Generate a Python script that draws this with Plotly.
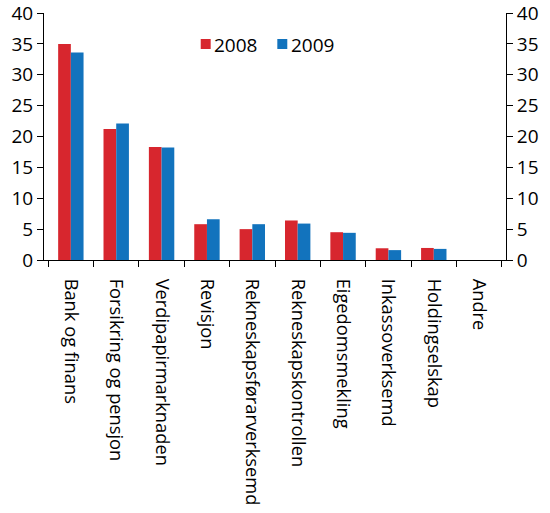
import plotly.graph_objects as go

categories = ["Bank og finans", "Forsikring og pensjon", "Verdipapirmarknaden", "Revisjon",
              "Rekneskapsførarverksemd", "Rekneskapskontrollen", "Eigedomsmekling",
              "Inkassoverksemd", "Holdingselskap", "Andre"]
v2008 = [35.0, 21.2, 18.3, 5.8, 5.0, 6.4, 4.5, 1.9, 1.95, 0]
v2009 = [33.6, 22.1, 18.2, 6.6, 5.8, 5.9, 4.4, 1.6, 1.8, 0]
series_names = ["2008", "2009"]
yticks = [0, 5, 10, 15, 20, 25, 30, 35, 40]

RED = "#d7262e"
BLUE = "#1273bd"
FONT = "Open Sans"
FS = 19

fig = go.Figure()
fig.add_trace(go.Bar(name=series_names[0], x=categories, y=v2008, marker_color=RED, marker_line_width=0))
fig.add_trace(go.Bar(name=series_names[1], x=categories, y=v2009, marker_color=BLUE, marker_line_width=0))
fig.add_trace(go.Scatter(x=categories, y=v2008, yaxis="y2", mode="markers",
                         marker_opacity=0, showlegend=False, hoverinfo="skip"))

# manual legend (squares + labels)
legend_items = [(series_names[0], RED, 0.3392, 0.3658), (series_names[1], BLUE, 0.5050, 0.5314)]
shapes, annotations = [], []
for name, col, sx, tx in legend_items:
    shapes.append(dict(type="rect", xref="paper", yref="paper", x0=sx, x1=sx + 0.0216,
                       y0=0.8543, y1=0.8947, fillcolor=col, line_width=0))
    annotations.append(dict(text=name, xref="paper", yref="paper", x=tx, y=0.872,
                            xanchor="left", yanchor="middle", showarrow=False,
                            font=dict(size=FS, family=FONT, color="black"), borderpad=0))

axis_common = dict(range=[0, 40], tickvals=yticks, ticks="outside", ticklen=6, tickcolor="black",
                   showline=True, linecolor="black", linewidth=1, showgrid=False, zeroline=False,
                   automargin=False, tickfont=dict(size=FS), ticklabeloverflow="allow")

fig.update_layout(
    width=550, height=513,
    margin=dict(l=44, r=44, t=13, b=253, autoexpand=False),
    paper_bgcolor="white", plot_bgcolor="white",
    font=dict(family=FONT, size=FS, color="black"),
    barmode="group", bargap=0.44, bargroupgap=0,
    showlegend=False,
    shapes=shapes, annotations=annotations,
    xaxis=dict(type="category", tickson="boundaries", ticks="outside", ticklen=6,
               tickcolor="black", showline=True, linecolor="black", linewidth=1,
               tickangle=90, showgrid=False, tickfont=dict(size=18.3), automargin=False,
               ticklabeloverflow="allow", ticklabelstandoff=14),
    yaxis=axis_common,
    yaxis2=dict(**axis_common, overlaying="y", side="right"),
)
fig.write_html("out.html", config={"displayModeBar": False},
               post_script="document.body.style.margin='0';document.body.style.overflow='hidden';")
